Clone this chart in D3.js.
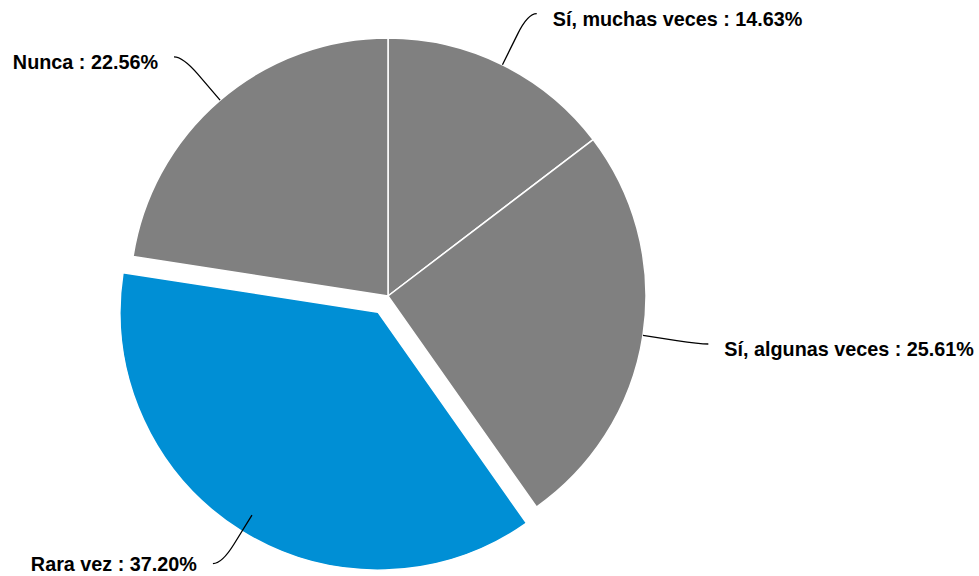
<!DOCTYPE html>
<html>
<head>
<meta charset="utf-8">
<script src="https://cdn.jsdelivr.net/npm/d3@7"></script>
<style>
  html, body { margin: 0; padding: 0; background: #fff; }
  svg { display: block; }
</style>
</head>
<body>
<svg id="chart" width="979" height="576"></svg>
<script>
// Survey answers, clockwise from 12 o'clock
const categories = ["Sí, muchas veces", "Sí, algunas veces", "Rara vez", "Nunca"];
const values = [14.63, 25.61, 37.20, 22.56];
const colors = ["#808080", "#808080", "#008fd5", "#808080"];
const highlighted = "Rara vez";

const data = categories.map((c, i) => ({ name: c, value: values[i], color: colors[i] }));

const width = 979, height = 576;
const svg = d3.select("#chart");
const cx = 388, cy = 296, radius = 258, explode = 19;

const pie = d3.pie().value(d => d.value).sort(null);
const arc = d3.arc().innerRadius(0).outerRadius(radius);
const arcs = pie(data);

const g = svg.append("g").attr("transform", `translate(${cx},${cy})`);

function offsetOf(d) {
  if (d.data.name !== highlighted) return [0, 0];
  const a = (d.startAngle + d.endAngle) / 2;
  return [Math.sin(a) * explode, -Math.cos(a) * explode];
}

g.selectAll("path.slice")
  .data(arcs)
  .join("path")
  .attr("class", "slice")
  .attr("d", arc)
  .attr("transform", d => `translate(${offsetOf(d)})`)
  .attr("fill", d => d.data.color)
  .attr("stroke", "#fff")
  .attr("stroke-width", 1.5)
  .attr("stroke-linejoin", "round");

// Leader lines (measured from the pie centre) and labels
const lineStart = radius, lineBend = radius + 57, tail = 9, textGap = 16;

arcs.forEach(d => {
  const a = (d.startAngle + d.endAngle) / 2;
  const sx = Math.sin(a), sy = -Math.cos(a);
  const right = sx >= 0 ? 1 : -1;
  const p0 = [sx * lineStart, sy * lineStart];
  const p1 = [sx * lineBend, sy * lineBend];
  const p2 = [p1[0] + right * tail, p1[1]];
  const k = 0.6;
  const m = [p0[0] + (p1[0] - p0[0]) * k, p0[1] + (p1[1] - p0[1]) * k];
  const path = `M${p0[0]},${p0[1]} L${m[0]},${m[1]} Q${p1[0]},${p1[1]} ${p2[0]},${p2[1]}`;
  g.append("path")
    .attr("d", path)
    .attr("fill", "none")
    .attr("stroke", "#000")
    .attr("stroke-width", 1.3);
  // keep the whole label inside the drawing area
  const ty = Math.min(p2[1] + 5, height - cy - 12);
  g.append("text")
    .attr("x", p2[0] + right * textGap)
    .attr("y", ty)
    .attr("dy", "0.35em")
    .attr("text-anchor", right > 0 ? "start" : "end")
    .attr("font-family", "Liberation Sans, Arial, sans-serif")
    .attr("font-weight", "bold")
    .attr("font-size", 19.8)
    .attr("fill", "#000")
    .text(`${d.data.name} : ${d.data.value.toFixed(2)}%`);
});
</script>
</body>
</html>
